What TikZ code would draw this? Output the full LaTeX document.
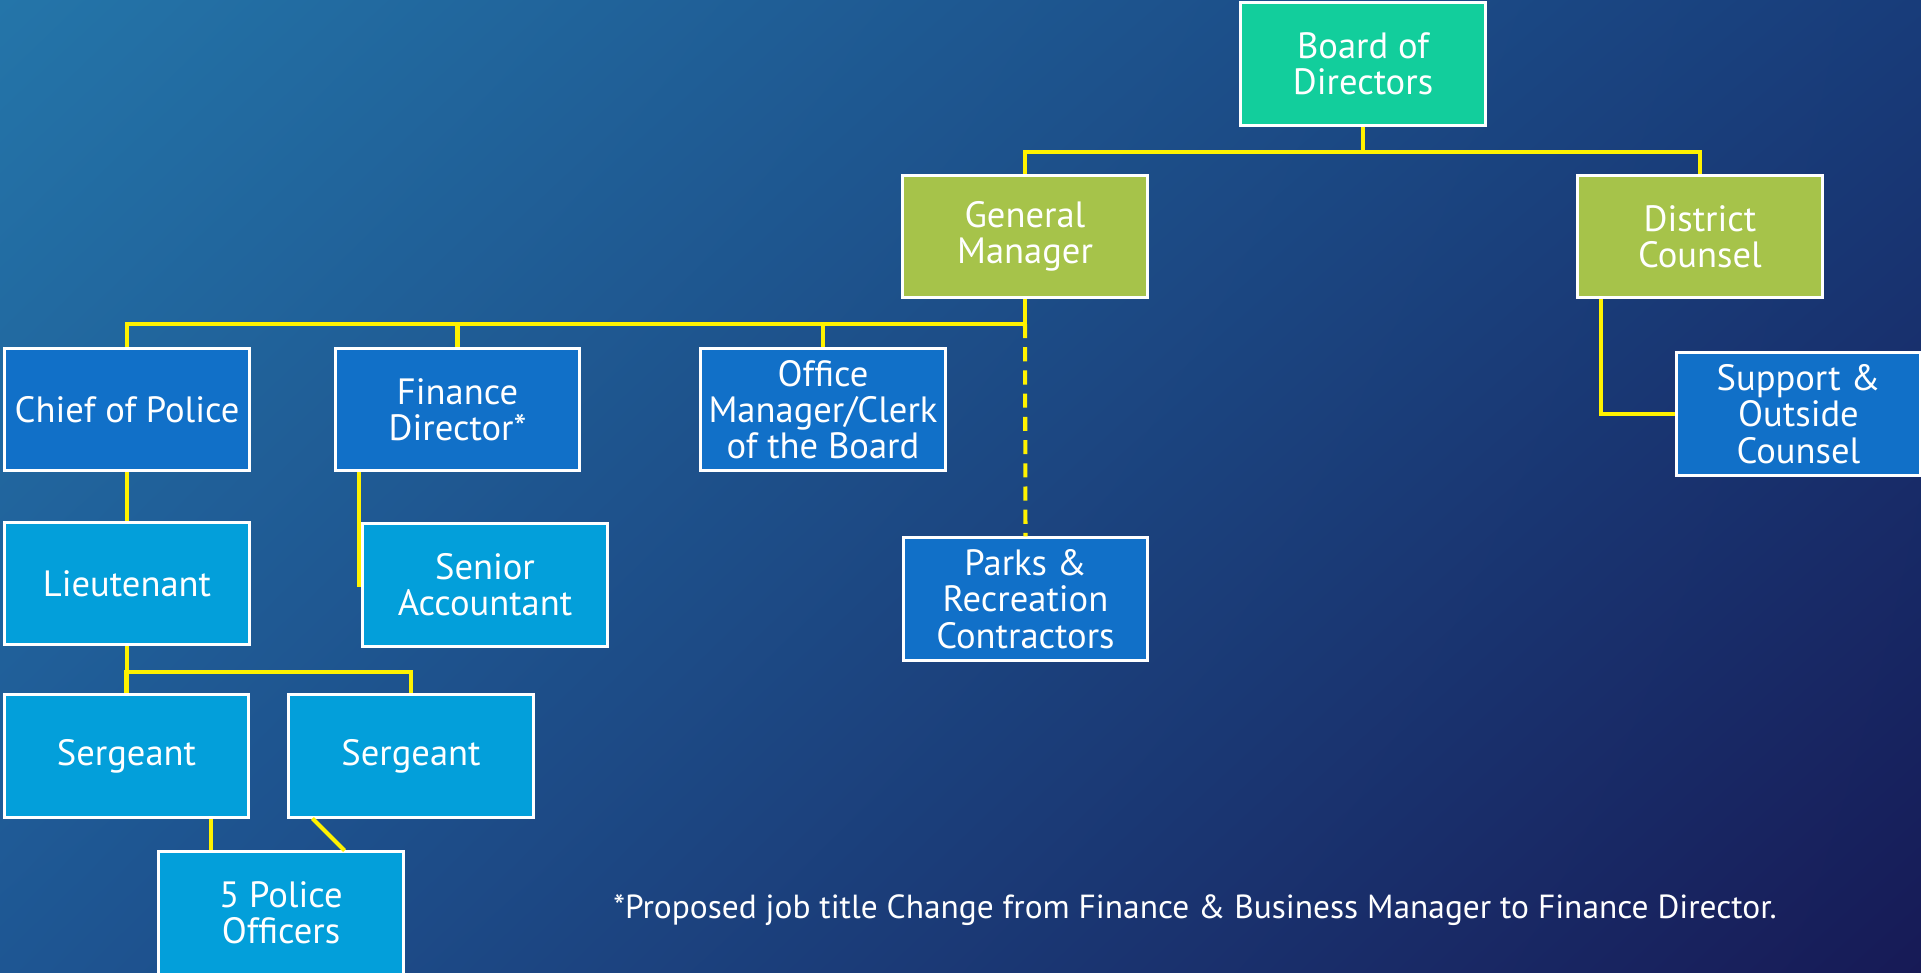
\documentclass[tikz,border=0pt]{standalone}
\usepackage{fontspec}
\setmainfont{PT Sans}
\usetikzlibrary{shadings}
\definecolor{boardgreen}{HTML}{12CE9C}
\definecolor{olive}{HTML}{A6C34A}
\definecolor{deptblue}{HTML}{1170C8}
\definecolor{staffblue}{HTML}{039FDA}
\definecolor{bgtl}{HTML}{2475A9}
\definecolor{bgtr}{HTML}{183C7A}
\definecolor{bgbl}{HTML}{1E5693}
\definecolor{bgbr}{HTML}{171A56}
\begin{document}
\begin{tikzpicture}[
  x=0.01cm, y=-0.01cm,
  every node/.style = {text=white, font=\fontsize{10.4}{10.3}\selectfont},
  post/.style = {shape=rectangle, draw=white, line width=0.85pt, align=center,
                 minimum width=2.44cm, minimum height=1.22cm, inner sep=0pt},
  board/.style = {post, fill=boardgreen},
  exec/.style = {post, fill=olive},
  dept/.style = {post, fill=deptblue},
  staff/.style = {post, fill=staffblue},
  link/.style = {draw=yellow, line width=1.15pt}
]
  % background
  \shade[upper left=bgtl, upper right=bgtr, lower left=bgbl, lower right=bgbr]
    (0,0) rectangle (1921,973);
  \useasboundingbox (0,0) rectangle (1921,973);

  \node[board] (board) at (1363,64) {Board of\\Directors};
  \node[exec] (gm) at (1025,236.5) {General\\Manager};
  \node[exec] (counsel) at (1700,236.5) {District\\Counsel};

  \node[dept] (chief) at (127,409.5) {Chief of Police};
  \node[dept] (finance) at (457.5,409.5) {Finance\\Director*};
  \node[dept] (office) at (823,409.5) {Office\\Manager/Clerk\\of the Board};
  \node[dept] (parks) at (1025.5,599) {Parks \&\\Recreation\\Contractors};
  \node[dept] (support) at (1798.5,414) {Support \&\\Outside\\Counsel};

  \node[staff] (lieut) at (127,583.5) {Lieutenant};
  \node[staff] (senior) at (485,585) {Senior\\Accountant};
  \node[staff] (sgtleft) at (126.5,756) {Sergeant};
  \node[staff] (sgtright) at (411,756) {Sergeant};
  \node[staff] (officers) at (281,913) {5 Police\\Officers};

  \node[font=\fontsize{9.5}{10}\selectfont] (note) at (1195,910)
    {*Proposed job title Change from Finance \& Business Manager to Finance Director.};

  % board level
  \draw[link] (board.south) -- ++(0,25) -| (gm.north);
  \draw[link] (board.south) -- ++(0,25) -| (counsel.north);
  \draw[link] ([xshift=0.25cm]counsel.south west) |- (support.west);

  % general manager level
  \draw[link] (gm.south) -- ++(0,25) coordinate (gmbus) -| (chief.north);
  \draw[link] (gmbus) -| (finance.north);
  \draw[link] (gmbus) -| (office.north);
  \draw[link, dash pattern=on 4pt off 2.6pt] (gmbus) -- (parks.north);

  % finance and police
  \draw[link] ([xshift=0.25cm]finance.south west) |- (senior.west);
  \draw[link] (chief.south) -- (lieut.north);
  \draw[link] (lieut.south) -- ++(0,26) -| (sgtleft.north);
  \draw[link] (lieut.south) -- ++(0,26) -| (sgtright.north);
  \coordinate (o1) at ([xshift=0.54cm]officers.north west);
  \draw[link] (o1) -- (o1 |- sgtleft.south);
  \draw[link] ([xshift=0.25cm]sgtright.south west) -- ([xshift=1.87cm]officers.north west);
\end{tikzpicture}
\end{document}
